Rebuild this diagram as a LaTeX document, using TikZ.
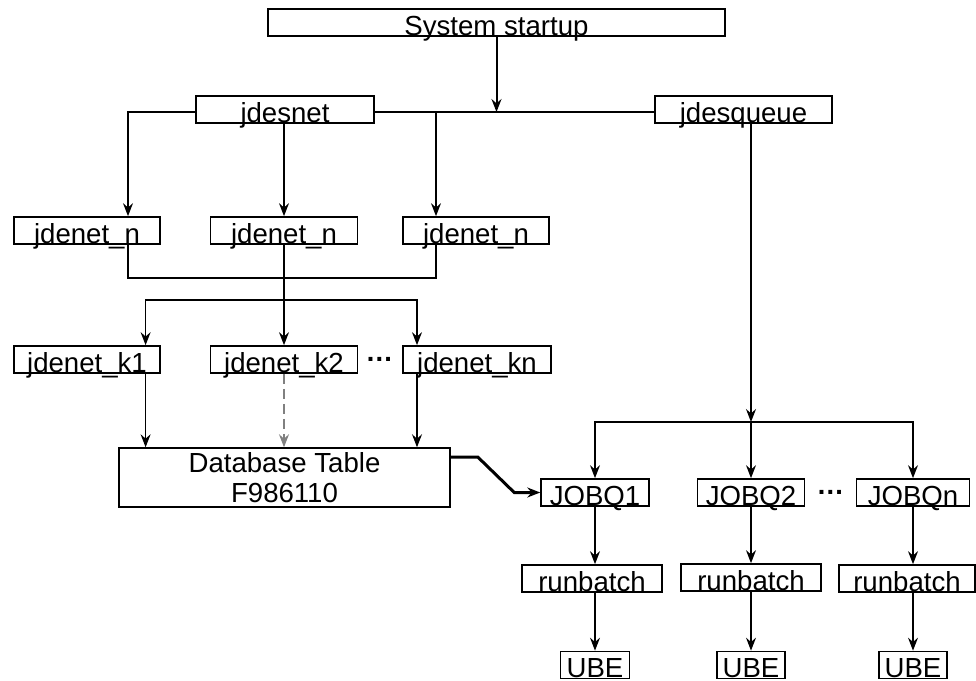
\documentclass[tikz,border=0pt]{standalone}
\usepackage{fontspec}
\setmainfont{Liberation Sans}
\usetikzlibrary{arrows.meta}

\tikzset{
  box/.style={draw, line width=0.75pt, inner xsep=0pt, inner ysep=0.5pt,
    text height=12.6pt, text depth=0pt},
  wire/.style={line width=0.6pt},
  link/.style={wire, -{Stealth[length=6.5pt,width=5pt,inset=2.2pt]}},
  gap/.style={anchor=base, inner sep=0pt, font=\fontsize{13.8}{15}\selectfont\bfseries},
}

\begin{document}
\begin{tikzpicture}[x=0.5pt, y=-0.5pt, font=\fontsize{13.8}{15}\selectfont]
    \useasboundingbox (0,0) rectangle (976,681);
    % startup and the two daemons
    \node[box, minimum width=228.5pt] (start) at (496.5,22.5) {System startup};
    \node[box, minimum width=89pt] (jdesnet) at (285,109.5) {jdesnet};
    \node[box, minimum width=88.5pt] (jdesqueue) at (743.5,109.5) {jdesqueue};
    \coordinate (topbus) at (496.5,112);
    \draw[wire] (jdesnet.east |- topbus) -- (jdesqueue.west |- topbus);
    \draw[link, line width=1pt] (start.south) -- (topbus);
    % network processes
    \node[box, minimum width=73pt] (n1) at (87,230.5) {jdenet\_n};
    \node[box, minimum width=73.5pt] (n2) at (284,230.5) {jdenet\_n};
    \node[box, minimum width=73pt] (n3) at (476,230.5) {jdenet\_n};
    \draw[link] (jdesnet.west |- topbus) -| ([xshift=20.5pt]n1.north);
    \draw[link] (jdesnet.south -| n2.north) -- (n2.north);
    \draw[link] ([xshift=-20pt]n3.north |- topbus) -- ([xshift=-20pt]n3.north);
    \coordinate (njoin) at (284,278);
    \draw[wire] ([xshift=20.5pt]n1.south) |- (njoin) -| ([xshift=-20pt]n3.south);
    % kernel processes
    \node[box, minimum width=73pt] (k1) at (87,359.5) {jdenet\_k1};
    \node[box, minimum width=73.5pt] (k2) at (284,359.5) {jdenet\_k2};
    \node[box, minimum width=74pt] (kn) at (477,359.5) {jdenet\_kn};
    \node[gap] (kdots) at (379.5,361) {\textellipsis};
    \coordinate (kbus) at (284,300);
    \draw[link] (n2.south) -- (k2.north);
    \draw[link] (kbus) -| ([xshift=29.3pt]k1.north);
    \draw[link] (kbus) -| ([xshift=-30pt]kn.north);
    % job table
    \node[draw, line width=0.75pt, inner sep=0pt, align=center,
      minimum width=165.5pt, minimum height=29.5pt] (db) at (284.5,477.5)
      {Database Table\\F986110};
    \draw[link] ([xshift=29.3pt]k1.south) -- ([xshift=29.3pt]k1.south |- db.north);
    \draw[link, gray, dash pattern=on 5pt off 2.5pt] (k2.south) -- (k2.south |- db.north);
    \draw[link] ([xshift=-30pt]kn.south) -- ([xshift=-30pt]kn.south |- db.north);
    % job queues
    \node[box, minimum width=54pt] (q1) at (595,492.5) {JOBQ1};
    \node[box, minimum width=53.5pt] (q2) at (751,492.5) {JOBQ2};
    \node[box, minimum width=56.5pt] (qn) at (913,492.5) {JOBQn};
    \node[gap] (qdots) at (830.5,494) {\textellipsis};
    \coordinate (qbus) at (751,422);
    \draw[link] (jdesqueue.south -| qbus) -- (qbus);
    \draw[link] (qbus) -| (q1.north);
    \draw[link] (qbus) -- (q2.north);
    \draw[link] (qbus) -| (qn.north);
    \draw[link, line width=1.5pt] ([yshift=10.25pt]db.east) -- ++(27,0)
      -- ([xshift=-13pt]q1.west) -- (q1.west);
    % batch runners and their UBEs
    \node[box, minimum width=70pt] (r1) at (592,578.5) {runbatch};
    \node[box, minimum width=70pt] (r2) at (751,577.5) {runbatch};
    \node[box, minimum width=68pt] (r3) at (907,578.5) {runbatch};
    \node[box, minimum width=34.5pt] (u1) at (595,665) {UBE};
    \node[box, minimum width=34pt] (u2) at (751,665) {UBE};
    \node[box, minimum width=34pt] (u3) at (913,665) {UBE};
    \draw[link] (q1.south) -- (q1.south |- r1.north);
    \draw[link] (q2.south) -- (q2.south |- r2.north);
    \draw[link] (qn.south) -- (qn.south |- r3.north);
    \draw[link] (u1.north |- r1.south) -- (u1.north);
    \draw[link] (u2.north |- r2.south) -- (u2.north);
    \draw[link] (u3.north |- r3.south) -- (u3.north);
\end{tikzpicture}
\end{document}
